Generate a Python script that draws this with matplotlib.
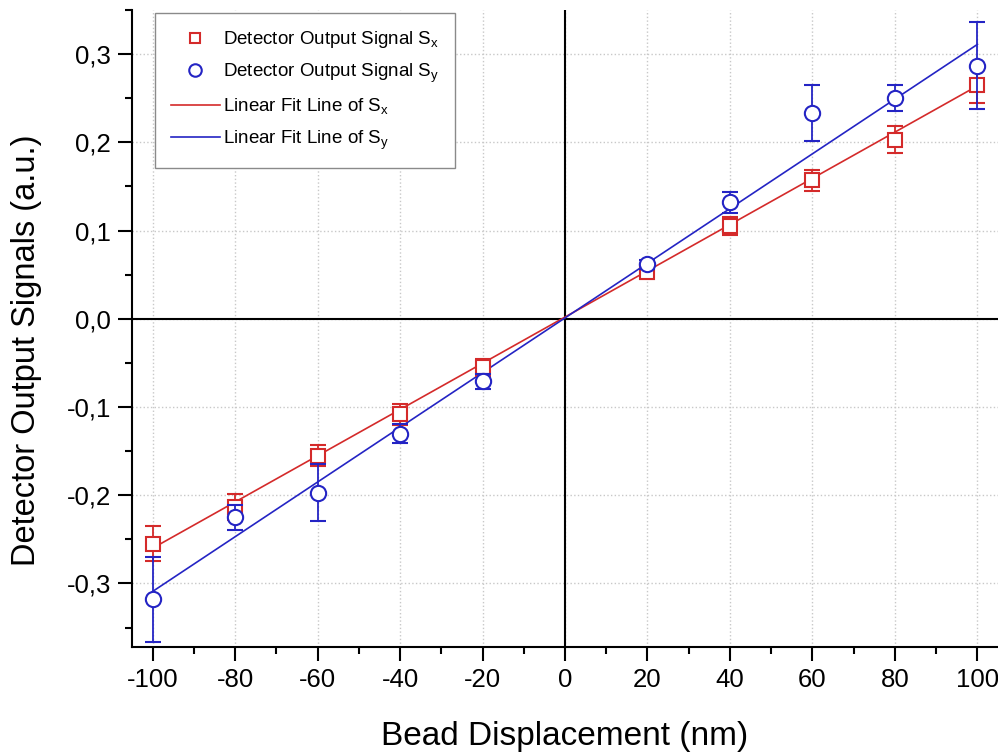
import matplotlib
matplotlib.use('Agg')
import matplotlib.pyplot as plt
from matplotlib.lines import Line2D
from matplotlib.ticker import MultipleLocator, FuncFormatter

plt.rcParams['font.family'] = ['Liberation Sans', 'DejaVu Sans']
plt.rcParams['mathtext.fontset'] = 'custom'
plt.rcParams['mathtext.rm'] = 'Liberation Sans'
plt.rcParams['axes.unicode_minus'] = False

# displacement (nm)
x = [-100, -80, -60, -40, -20, 20, 40, 60, 80, 100]

# detector signal Sx and its error
sx = [-0.255, -0.213, -0.155, -0.108, -0.055, 0.053, 0.105, 0.157, 0.203, 0.265]
sx_err = [0.020, 0.015, 0.012, 0.012, 0.010, 0.008, 0.010, 0.012, 0.015, 0.020]

# detector signal Sy and its error
sy = [-0.318, -0.225, -0.197, -0.130, -0.071, 0.062, 0.132, 0.233, 0.250, 0.287]
sy_err = [0.048, 0.014, 0.032, 0.011, 0.008, 0.005, 0.012, 0.032, 0.015, 0.049]

# linear fit lines (end points)
fit_x = [-100, 100]
fit_sx = [-0.260, 0.264]
fit_sy = [-0.309, 0.311]

red = '#d42a2a'
blue = '#2424c4'

fig = plt.figure(figsize=(9.98, 7.52), dpi=100)
ax = fig.add_axes([0.1323, 0.1396, 0.8677, 0.8471])

ax.axhline(0, color='black', lw=1.5, zorder=1)
ax.axvline(0, color='black', lw=1.5, zorder=1)

ax.plot(fit_x, fit_sx, color=red, lw=1.2, zorder=2)
ax.plot(fit_x, fit_sy, color=blue, lw=1.2, zorder=2)

ax.errorbar(x, sx, yerr=sx_err, fmt='s', ms=9.5, mfc='white', mec=red, mew=1.5,
            ecolor=red, elinewidth=1.3, capsize=6, capthick=1.3, zorder=3)
ax.errorbar(x, sy, yerr=sy_err, fmt='o', ms=11, mfc='white', mec=blue, mew=1.5,
            ecolor=blue, elinewidth=1.3, capsize=6, capthick=1.3, zorder=4)

ax.set_xlim(-105, 105)
ax.set_ylim(-0.372, 0.35)

ax.xaxis.set_major_locator(MultipleLocator(20))
ax.xaxis.set_minor_locator(MultipleLocator(10))
ax.yaxis.set_major_locator(MultipleLocator(0.1))
ax.yaxis.set_minor_locator(MultipleLocator(0.05))
ax.yaxis.set_major_formatter(FuncFormatter(lambda v, p: f'{v:.1f}'.replace('.', ',').replace('-0,0', '0,0')))

ax.grid(True, which='major', color='#c8c8c8', ls=':', lw=1)
ax.set_axisbelow(True)

for s in ['top', 'right']:
    ax.spines[s].set_visible(False)
for s in ['left', 'bottom']:
    ax.spines[s].set_linewidth(1.5)

ax.tick_params(which='major', direction='out', length=10, width=1.5, labelsize=18.5, pad=5)
ax.tick_params(which='minor', direction='out', length=5, width=1.5)

ax.set_xlabel('Bead Displacement (nm)', fontsize=24, labelpad=21)
ax.set_ylabel('Detector Output Signals (a.u.)', fontsize=23.5)
ax.yaxis.set_label_coords(-0.104, 0.466)

# legend: markers without error bars, as in the original
handles = [
    Line2D([], [], ls='none', marker='s', ms=7, mfc='white', mec=red, mew=1.5),
    Line2D([], [], ls='none', marker='o', ms=9, mfc='white', mec=blue, mew=1.5),
    Line2D([], [], color=red, lw=1.2),
    Line2D([], [], color=blue, lw=1.2),
]
labels = [
    r'Detector Output Signal S$_\mathregular{x}$',
    r'Detector Output Signal S$_\mathregular{y}$',
    r'Linear Fit Line of S$_\mathregular{x}$',
    r'Linear Fit Line of S$_\mathregular{y}$',
]
leg = ax.legend(handles, labels, loc='upper left', bbox_to_anchor=(0.0266, 0.995),
                borderaxespad=0, fontsize=13.5, frameon=True, fancybox=False,
                edgecolor='#8a8a8a', framealpha=1, handlelength=2.6, handletextpad=0.15,
                borderpad=0.85, labelspacing=0.62)
leg.get_frame().set_linewidth(1.0)

fig.savefig('out.png', dpi=100)
